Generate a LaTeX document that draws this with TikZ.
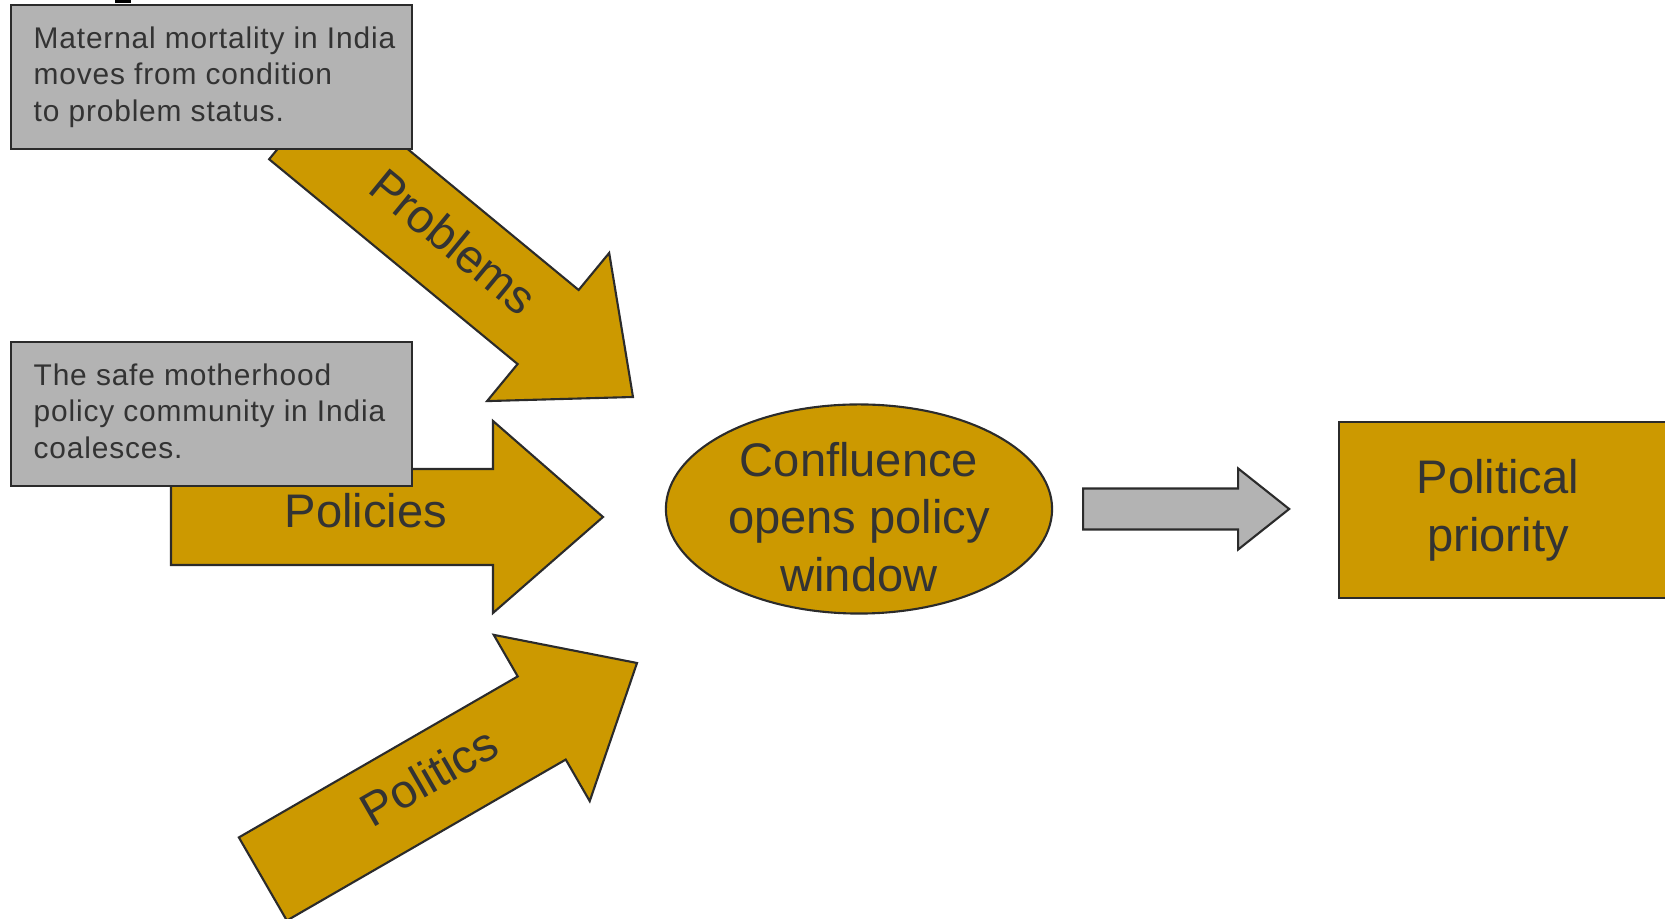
\documentclass[tikz,border=0pt]{standalone}
\usepackage{fontspec}
\setmainfont{Liberation Sans}
\newfontfamily\notefont[LetterSpace=2.8]{Liberation Sans}
\usepackage{xcolor}
\usepackage{tikz}
\usetikzlibrary{positioning}
\usetikzlibrary{shapes.geometric, calc}
\definecolor{gold}{HTML}{CC9900}
\definecolor{notegrey}{HTML}{B3B3B3}
\definecolor{edgegrey}{HTML}{2B2B2B}
\definecolor{inkgrey}{HTML}{333333}

\begin{document}
\begin{tikzpicture}[x=0.01cm, y=-0.01cm,
        goldfill/.style={draw=edgegrey, fill=gold, line width=0.6pt},
        greyfill/.style={draw=edgegrey, fill=notegrey, line width=0.6pt},
        notebox/.style={greyfill, minimum width=4.01cm, minimum height=1.44cm, inner sep=0pt, anchor=north west},
        notetext/.style={text=inkgrey, font=\notefont\fontsize{8.5pt}{10.44pt}\selectfont, align=left, inner sep=0pt, anchor=west},
        bigtext/.style={text=inkgrey, font=\fontsize{13.4pt}{16.4pt}\selectfont, align=center, inner sep=0pt},
        stream/.pic={
            \draw[goldfill] (0,0) -- (-110,-96) -- (-110,-48) -- (-432,-48) -- (-432,48) -- (-110,48) -- (-110,96) -- cycle;
            \node[bigtext, transform shape] (-text) at (-237,-6) {#1};
        }]
        \useasboundingbox (0,0) rectangle (1665,919);
        \clip (0,0) rectangle (1665,919);
        \fill[black] (115,0) rectangle (131,3.5);
        \pic[rotate=-39.5] (problems) at (633,397) {stream=Problems};
        \pic (policies) at (603,517) {stream=Policies};
        \pic[rotate=30] (politics) at (637,663) {stream=Politics};
        \node[notebox] (mmbox) at (10,4) {};
        \node[notetext] (mmtext) at ([xshift=0.23cm]mmbox.west) {Maternal mortality in India\\moves from condition\\to problem status.};
        \node[notebox] (smbox) at (10,341) {};
        \node[notetext] (smtext) at ([xshift=0.23cm, yshift=0.03cm]smbox.west) {The safe motherhood\\policy community in India\\coalesces.};
        \node[ellipse, goldfill, minimum width=3.86cm, minimum height=2.09cm, inner sep=0pt] (window) at (859,509) {};
        \node[bigtext] (windowtext) at (859,517) {Confluence\\opens policy\\window};
        \node[goldfill, minimum width=3.6cm, minimum height=1.76cm, inner sep=0pt, anchor=north west] (priority) at (1338,421) {};
        \node[bigtext] (prioritytext) at (1498,510) {Political\\priority};
        \coordinate (gtail) at ([xshift=0.30cm]window.east);
        \draw[greyfill, shift={(gtail)}] (0,-20.5) -- (155,-20.5) -- (155,-40.5) -- (206,0) -- (155,40.5) -- (155,20.5) -- (0,20.5) -- cycle;
    \end{tikzpicture}
\end{document}
